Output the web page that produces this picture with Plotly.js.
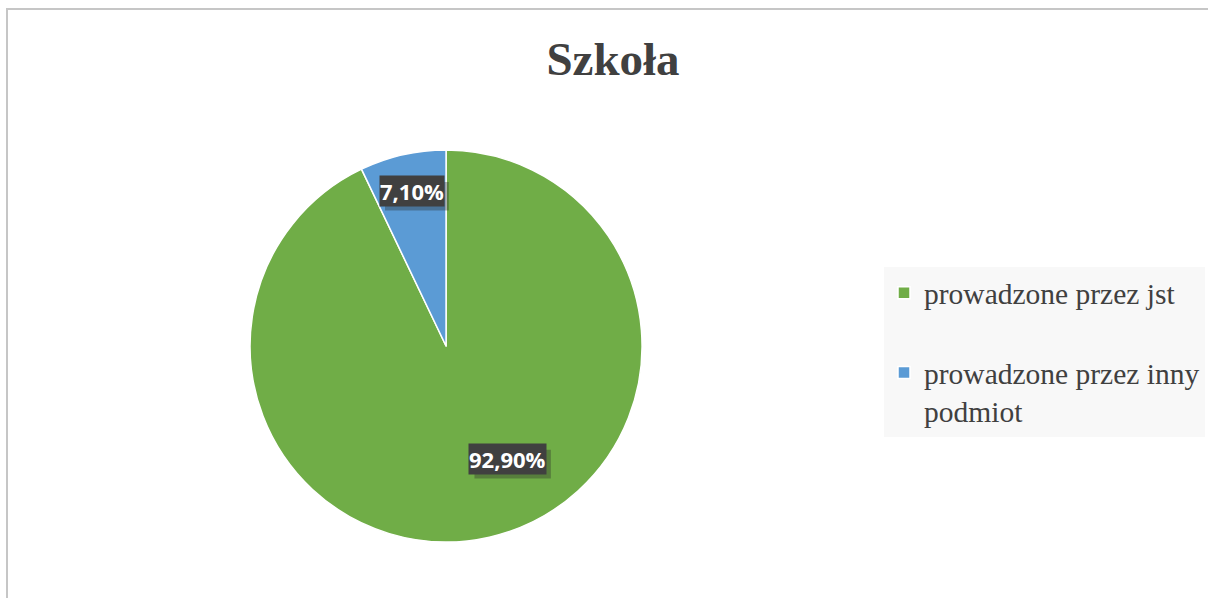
<!DOCTYPE html>
<html>
<head>
<meta charset="utf-8">
<script src="https://cdn.plot.ly/plotly-3.0.1.min.js"></script>
<style>
  html, body { margin: 0; padding: 0; background: #ffffff; }
  #wrap { position: relative; width: 1208px; height: 598px; overflow: hidden; }
  #chart { position: absolute; left: 0; top: 0; width: 1208px; height: 598px; }
  .bline { position: absolute; background: #c6c6c6; z-index: 5; }
</style>
</head>
<body>
<div id="wrap">
  <div id="chart"></div>
  <div class="bline" style="left:6px; top:8px; width:1202px; height:2px;"></div>
  <div class="bline" style="left:6px; top:8px; width:2px; height:590px;"></div>
</div>
<script>
// ---- data ----
const chartTitle = "Szkoła";
const categories = ["prowadzone przez jst", "prowadzone przez inny podmiot"];
const legendLabels = ["prowadzone przez jst<br> ", "prowadzone przez inny<br>podmiot"];
const values = [92.9, 7.1];
const sliceColors = ["#70ad47", "#5b9bd5"];

// ---- geometry (style) ----
const W = 1208, H = 598;
const pieX = [0.2070, 0.5315];
const pieY = [0.0936, 0.7492];
const labelRadiusFrac = [0.66, 0.81];
const labelShift = [[33, 13], [1, 0]];
const labelFontSize = 22;
const labelFont = 'Open Sans, sans-serif';

const total = values.reduce((a, b) => a + b, 0);
const fmt = v => (v / total * 100).toFixed(2).replace('.', ',') + '%';

const cx = (pieX[0] + pieX[1]) / 2;
const cy = (pieY[0] + pieY[1]) / 2;
const rPx = Math.min((pieX[1] - pieX[0]) * W, (pieY[1] - pieY[0]) * H) / 2;

const ctx = document.createElement('canvas').getContext('2d');
ctx.font = 'bold ' + labelFontSize + 'px "Open Sans"';

const annotations = [];
const shapes = [];
let cum = 0;
values.forEach((v, i) => {
  const mid = (cum + v / 2) / total;
  cum += v;
  const ang = mid * 2 * Math.PI; // clockwise from top
  const dx = Math.sin(ang) * rPx * labelRadiusFrac[i];
  const dy = Math.cos(ang) * rPx * labelRadiusFrac[i];
  const x = cx + dx / W;
  const y = cy + dy / H;
  const label = fmt(v);
  const tw = ctx.measureText(label).width;
  const th = labelFontSize * 1.3;
  // shadow centre in pixels (offset down-right from the label box)
  const sxp = labelShift[i][0] + 5, syp = labelShift[i][1] - 5;
  shapes.push({
    type: 'rect', xref: 'paper', yref: 'paper',
    x0: x + (sxp - tw / 2) / W, x1: x + (sxp + tw / 2) / W,
    y0: y + (syp - th / 2) / H, y1: y + (syp + th / 2) / H,
    fillcolor: 'rgba(40,40,40,0.35)', line: {width: 0}, layer: 'above'
  });
  annotations.push({
    x: x, y: y, xref: 'paper', yref: 'paper', showarrow: false,
    xanchor: 'center', yanchor: 'middle',
    text: '<b>' + label + '</b>', xshift: labelShift[i][0], yshift: labelShift[i][1],
    font: {family: labelFont, size: labelFontSize, color: '#ffffff'},
    bgcolor: '#404040', borderpad: 0
  });
});

const trace = {
  type: 'pie',
  labels: legendLabels,
  values: values,
  customdata: categories,
  sort: false,
  direction: 'clockwise',
  rotation: 0,
  textinfo: 'none',
  hoverinfo: 'skip',
  marker: {colors: sliceColors, line: {color: '#ffffff', width: 1.5}},
  domain: {x: pieX, y: pieY}
};

const layout = {
  width: W, height: H,
  margin: {l: 0, r: 0, t: 0, b: 0},
  paper_bgcolor: '#ffffff',
  title: {
    text: '<b>' + chartTitle + '</b>',
    x: 613 / W, xanchor: 'center', xref: 'container',
    y: 1 - 59 / H, yanchor: 'middle', yref: 'container',
    font: {family: 'Liberation Serif, Times New Roman, serif', size: 47, color: '#404040'}
  },
  showlegend: true,
  legend: {
    x: 884 / W, xanchor: 'left',
    y: 1 - 267 / H, yanchor: 'top',
    bgcolor: '#f8f8f8',
    valign: 'top',
    font: {family: 'Liberation Serif, Times New Roman, serif', size: 29.5, color: '#404040'}
  },
  shapes: shapes,
  annotations: annotations,
  hovermode: false
};

Plotly.newPlot('chart', [trace], layout, {displayModeBar: false, staticPlot: true});
</script>
</body>
</html>
